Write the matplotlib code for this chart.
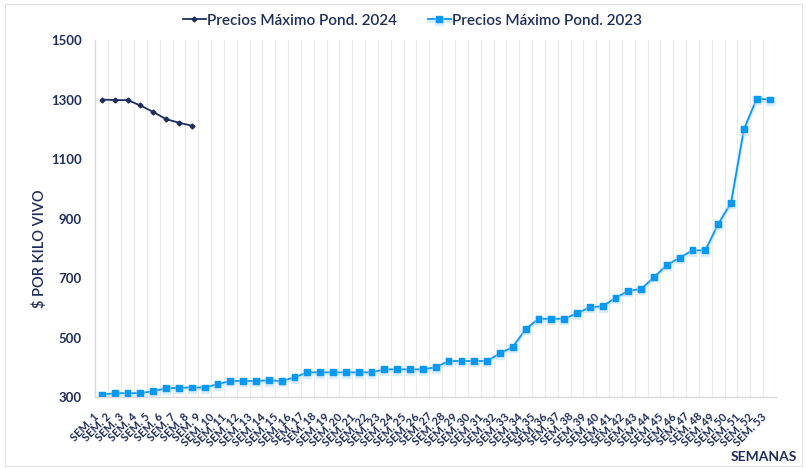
import matplotlib.pyplot as plt
import matplotlib.patheffects as pe
import matplotlib.transforms as mtransforms
from matplotlib.patches import Rectangle

semanas = ["SEM. %d" % i for i in range(1, 54)]

precios_2024 = [1300, 1298, 1298, 1280, 1258, 1234, 1222, 1212]

precios_2023 = [308, 313, 313, 313, 320, 329, 331, 332, 332, 343,
                354, 354, 354, 356, 354, 366, 383, 383, 383, 383,
                383, 383, 393, 393, 393, 393, 400, 421, 421, 421,
                421, 447, 468, 528, 563, 563, 563, 581, 602, 605,
                633, 657, 663, 703, 744, 768, 793, 793, 882, 953,
                1200, 1303, 1300]

navy = "#1F2F5C"
azul = "#0A98F5"

plt.rcParams['font.family'] = ['Lato', 'DejaVu Sans']

fig = plt.figure(figsize=(8.07, 4.69), dpi=100)
fig.patches.append(Rectangle((0.006, 0.006), 0.988, 0.985, transform=fig.transFigure,
                             fill=False, edgecolor="#E3E3E3", linewidth=0.8))
ax = fig.add_axes([0.1183, 0.1535, 0.8433, 0.7612])

x23 = list(range(len(precios_2023)))
x24 = list(range(len(precios_2024)))

ax.plot(x23, precios_2023, color=azul, linewidth=1.3, marker="s", markersize=4.2,
        markerfacecolor=azul, markeredgecolor=azul, zorder=3,
        path_effects=[pe.SimpleLineShadow(offset=(0, -1), shadow_color="#B5DDF8", alpha=0.5, linewidth=2.5),
                      pe.Normal()],
        label="Precios Máximo Pond. 2023")
ax.plot(x24, precios_2024, color=navy, linewidth=1.3, marker="D", markersize=2.5,
        markerfacecolor=navy, markeredgecolor=navy, zorder=4,
        label="Precios Máximo Pond. 2024")

ax.set_xlim(-0.5, len(semanas) - 0.5)
ax.set_ylim(300, 1500)
ax.set_yticks([300, 500, 700, 900, 1100, 1300, 1500])

# lineas verticales entre categorias
for k in range(1, len(semanas) + 1):
    ax.axvline(k - 0.5, color="#EBEBEB", linewidth=0.9, zorder=0)

ax.set_xticks(x23)
ax.set_xticklabels(semanas, rotation=45, ha="right", rotation_mode="anchor",
                   fontsize=8, fontweight="bold", color=navy)
ax.tick_params(axis="x", length=0, pad=10)
ax.tick_params(axis="y", length=0, pad=10, labelsize=9.5, labelcolor=navy)
for t in ax.get_yticklabels():
    t.set_fontweight("bold")
shift = mtransforms.ScaledTranslation(-9 / 100, 0, fig.dpi_scale_trans)
for t in ax.xaxis.get_majorticklabels():
    t.set_transform(t.get_transform() + shift)

for s in ["top", "right"]:
    ax.spines[s].set_visible(False)
for s in ["left", "bottom"]:
    ax.spines[s].set_color("#D9D9D9")
    ax.spines[s].set_linewidth(1.0)

ax.set_ylabel("$ POR KILO VIVO", fontsize=10.5, fontweight="semibold", color=navy)
ax.yaxis.set_label_coords(-0.071, 0.415)
fig.text(0.988, 0.018, "SEMANAS", fontsize=10, fontweight="bold", color=navy, ha="right")

h, l = ax.get_legend_handles_labels()
fig.legend(h[::-1], l[::-1], loc="upper center", bbox_to_anchor=(0.511, 1.0), ncol=2,
           frameon=False, prop={"size": 11, "weight": "semibold"}, labelcolor=navy,
           handlelength=1.5, handletextpad=0.1, columnspacing=2.0)

fig.savefig("out.png", dpi=100)
